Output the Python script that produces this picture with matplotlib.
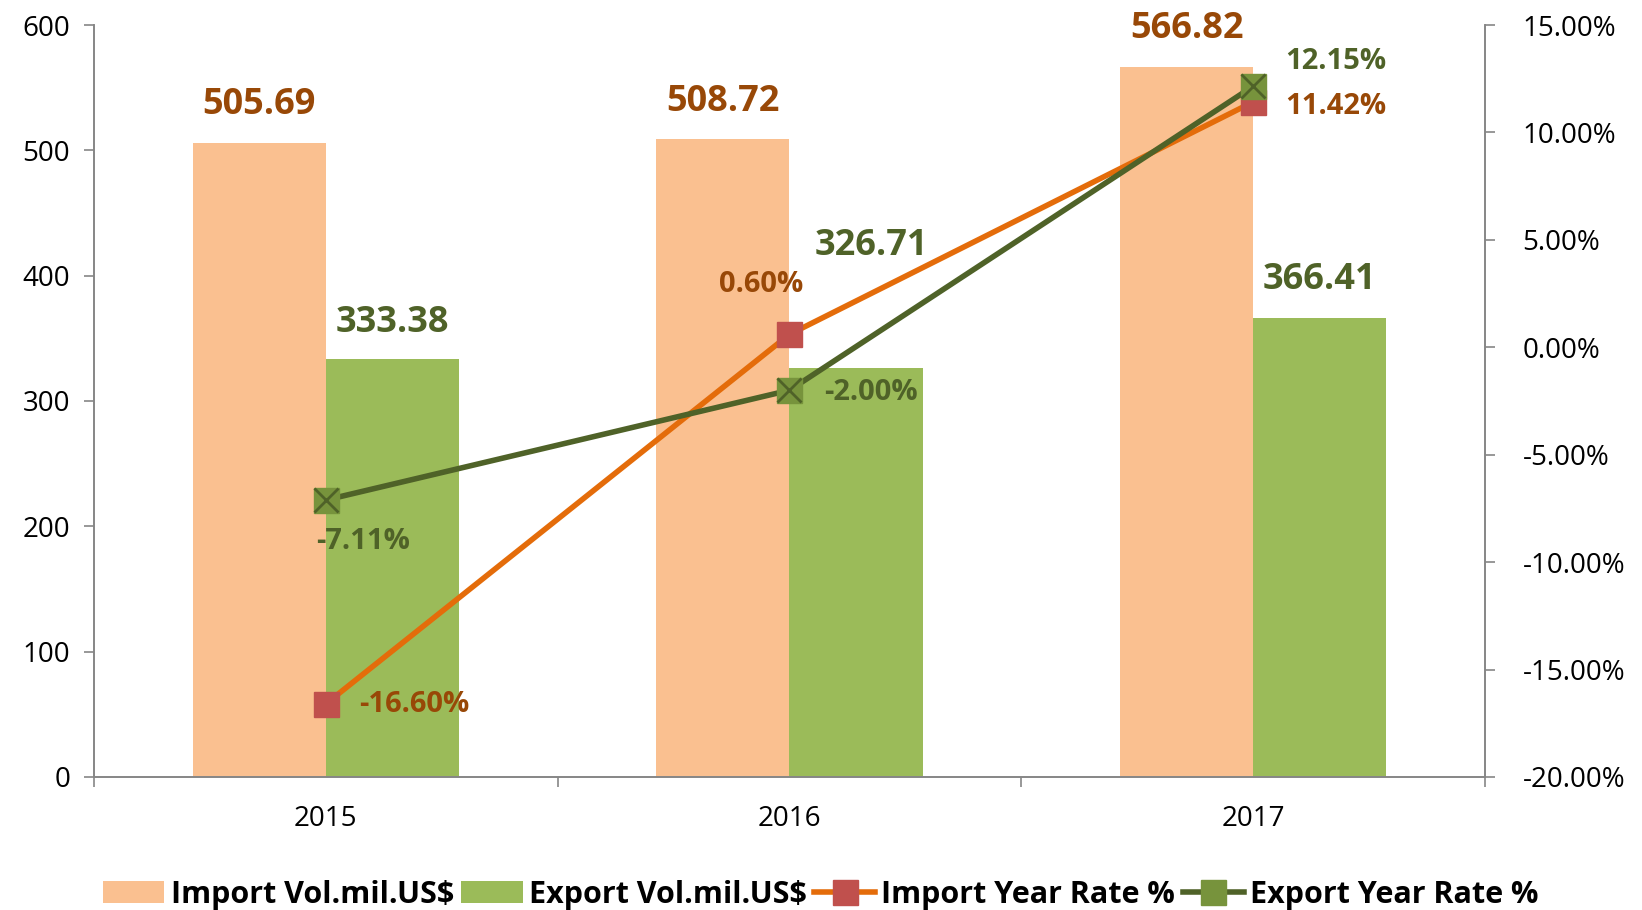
import matplotlib.pyplot as plt
import numpy as np
from matplotlib.ticker import FuncFormatter

years = ['2015', '2016', '2017']
import_vol = [505.69, 508.72, 566.82]
export_vol = [333.38, 326.71, 366.41]
import_rate = [-16.60, 0.60, 11.42]
export_rate = [-7.11, -2.00, 12.15]

plt.rcParams['font.family'] = ['Open Sans', 'DejaVu Sans']

fig = plt.figure(figsize=(16.42, 9.10), dpi=100)
ax = fig.add_axes([0.0572, 0.1462, 0.8472, 0.8263])
ax2 = ax.twinx()

x = np.arange(len(years))
w = 0.287
b1 = ax.bar(x - w / 2, import_vol, w, color='#FAC090', label='Import Vol.mil.US$', zorder=2)
b2 = ax.bar(x + w / 2, export_vol, w, color='#9BBB59', label='Export Vol.mil.US$', zorder=2)

ax.set_xlim(-0.5, 2.5)
ax.set_ylim(0, 600)
ax.set_yticks(range(0, 601, 100))
ax.set_xticks(x)
ax.set_xticklabels(years)
ax.set_xticks([-0.5, 0.5, 1.5, 2.5], minor=True)
ax.tick_params(axis='x', which='major', length=0, labelsize=20, pad=20)
ax.tick_params(axis='x', which='minor', length=7, color='#868686', width=1.2)
ax.tick_params(axis='y', labelsize=20, length=7, color='#868686', width=1.2, pad=10)

ax2.set_ylim(-20, 15)
ax2.set_yticks(range(-20, 16, 5))
ax2.yaxis.set_major_formatter(FuncFormatter(lambda v, p: f'{v:.2f}%'))
ax2.tick_params(axis='y', labelsize=20, length=7, color='#868686', width=1.2, pad=20)

for a in (ax, ax2):
    a.spines['top'].set_visible(False)
    for s in ('left', 'right', 'bottom'):
        a.spines[s].set_color('#868686')
        a.spines[s].set_linewidth(1.2)

l1, = ax2.plot(x, import_rate, color='#E46C0A', lw=4, marker='s', ms=18,
               mfc='#C0504D', mec='#C0504D', label='Import Year Rate %', zorder=3)
l2, = ax2.plot(x, export_rate, color='#4F6228', lw=4, marker='s', ms=18,
               mfc='#77933C', mec='#77933C', label='Export Year Rate %', zorder=4)
ax2.plot(x, export_rate, ls='none', marker='x', ms=17, mew=2, mec='#4F6228', zorder=5)

imp_c = '#984807'
exp_c = '#4F6228'
fs_bar = 26
fs_pct = 21

# bar labels (offsets in pixels)
imp_off = [(0, 38), (0, 37), (0, 38)]
exp_off = [(0, 36), (15, 122), (0, 38)]
for i in range(3):
    ax.annotate(f'{import_vol[i]:.2f}', (x[i] - w / 2, import_vol[i]), xytext=imp_off[i],
                textcoords='offset pixels', ha='center', va='center',
                fontsize=fs_bar, fontweight='bold', color=imp_c)
    ax.annotate(f'{export_vol[i]:.2f}', (x[i] + w / 2, export_vol[i]), xytext=exp_off[i],
                textcoords='offset pixels', ha='center', va='center',
                fontsize=fs_bar, fontweight='bold', color=exp_c)

imp_pct_off = [(88, -1), (-28, 50), (83, -5)]
exp_pct_off = [(37, -41), (81, -2), (83, 25)]
for i in range(3):
    ax2.annotate(f'{import_rate[i]:.2f}%', (x[i], import_rate[i]), xytext=imp_pct_off[i],
                 textcoords='offset pixels', ha='center', va='center',
                 fontsize=fs_pct, fontweight='bold', color=imp_c, zorder=6)
    ax2.annotate(f'{export_rate[i]:.2f}%', (x[i], export_rate[i]), xytext=exp_pct_off[i],
                 textcoords='offset pixels', ha='center', va='center',
                 fontsize=fs_pct, fontweight='bold', color=exp_c, zorder=6)

leg = fig.legend([b1, b2, l1, l2],
                 ['Import Vol.mil.US$', 'Export Vol.mil.US$', 'Import Year Rate %', 'Export Year Rate %'],
                 loc='center', bbox_to_anchor=(0.5, 0.017), ncol=4, frameon=False,
                 handlelength=2.0, handletextpad=0.2, columnspacing=0.25,
                 prop={'weight': 'bold', 'size': 22})

fig.savefig('out.png', dpi=100)
